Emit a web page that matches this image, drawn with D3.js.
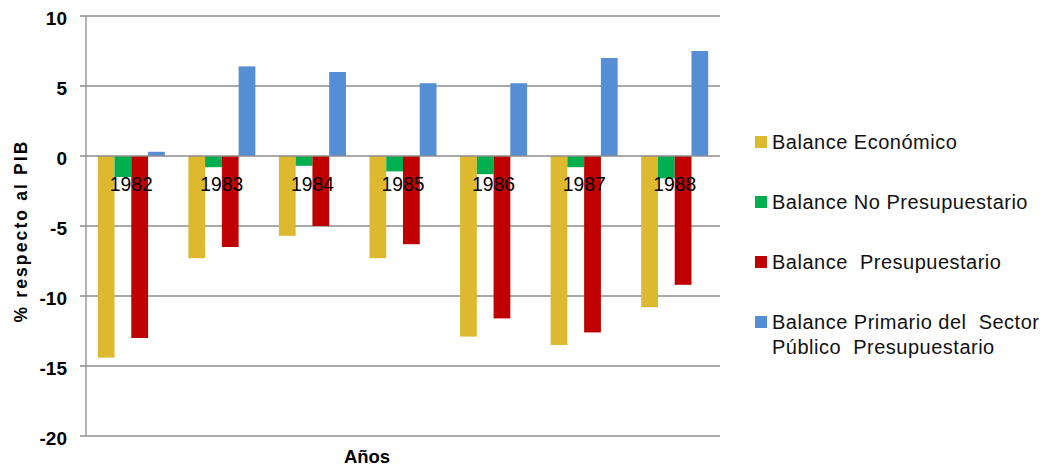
<!DOCTYPE html>
<html>
<head>
<meta charset="utf-8">
<script src="https://cdn.jsdelivr.net/npm/d3@7"></script>
<style>
  html, body { margin: 0; padding: 0; background: #fff; }
  svg { display: block; font-family: "Liberation Sans", Arial, sans-serif; }
</style>
</head>
<body>
<svg id="chart" width="1044" height="468"></svg>
<script>
// Años del período
const years = ["1982", "1983", "1984", "1985", "1986", "1987", "1988"];

// Balances del sector público (% del PIB)
const balanceEconomico      = [-14.4, -7.3, -5.7, -7.3, -12.9, -13.5, -10.8];
const balanceNoPresup       = [-1.5, -0.8, -0.7, -1.1, -1.3, -0.8, -1.6];
const balancePresupuestario = [-13.0, -6.5, -5.0, -6.3, -11.6, -12.6, -9.2];
const balancePrimario       = [0.3, 6.4, 6.0, 5.2, 5.2, 7.0, 7.5];

const seriesNames = [
  "Balance Económico",
  "Balance No Presupuestario",
  "Balance  Presupuestario",
  "Balance Primario del  Sector\nPúblico  Presupuestario"
];
const seriesColors = ["#DDB92F", "#00B050", "#C00000", "#558ED5"];
const seriesValues = [balanceEconomico, balanceNoPresup, balancePresupuestario, balancePrimario];

const yTicks = [10, 5, 0, -5, -10, -15, -20];

const svg = d3.select("#chart");
const plotLeft = 86, plotRight = 720, plotTop = 16, plotBottom = 436;

const x0 = d3.scaleBand().domain(years).range([plotLeft, plotRight])
  .paddingInner(0.26).paddingOuter(0.13);
const x1 = d3.scaleBand().domain(d3.range(seriesNames.length))
  .range([0, x0.bandwidth()]).padding(0);
const y = d3.scaleLinear().domain([-20, 10]).range([plotBottom, plotTop]);

const gridColor = "#8c8c8c";

// Líneas de división horizontales
svg.append("g").selectAll("line").data(yTicks.filter(t => t !== 0)).join("line")
  .attr("x1", plotLeft - 6).attr("x2", plotRight)
  .attr("y1", d => y(d)).attr("y2", d => y(d))
  .attr("stroke", gridColor).attr("stroke-width", 1.3);

// Eje vertical
svg.append("line")
  .attr("x1", plotLeft).attr("x2", plotLeft).attr("y1", plotTop).attr("y2", plotBottom)
  .attr("stroke", gridColor).attr("stroke-width", 1.3);

// Etiquetas del eje Y
svg.append("g").selectAll("text").data(yTicks).join("text")
  .attr("x", 67).attr("y", d => y(d) + 9)
  .attr("text-anchor", "end")
  .attr("font-size", 19).attr("font-weight", "bold").attr("fill", "#000")
  .text(d => d);

// Barras
const rows = years.map((yr, i) => ({ year: yr, vals: seriesValues.map(s => s[i]) }));
const groups = svg.append("g").selectAll("g").data(rows).join("g")
  .attr("transform", d => `translate(${x0(d.year)},0)`);
groups.selectAll("rect").data(d => d.vals.map((v, k) => ({ v, k }))).join("rect")
  .attr("x", d => x1(d.k))
  .attr("width", x1.bandwidth())
  .attr("y", d => Math.min(y(0), y(d.v)))
  .attr("height", d => Math.abs(y(d.v) - y(0)))
  .attr("fill", d => seriesColors[d.k]);

// Línea del cero
svg.append("line")
  .attr("x1", plotLeft - 6).attr("x2", plotRight).attr("y1", y(0)).attr("y2", y(0))
  .attr("stroke", gridColor).attr("stroke-width", 1.3);

// Etiquetas de categorías
svg.append("g").selectAll("text").data(years).join("text")
  .attr("x", d => x0(d) + x0.bandwidth() / 2)
  .attr("y", y(0) + 35)
  .attr("text-anchor", "middle")
  .attr("font-size", 20).attr("fill", "#000")
  .attr("textLength", 43).attr("lengthAdjust", "spacingAndGlyphs")
  .text(d => d);

// Títulos de ejes
svg.append("text")
  .attr("transform", "translate(27,232) rotate(-90)")
  .attr("text-anchor", "middle")
  .attr("font-size", 17.5).attr("font-weight", "bold")
  .attr("textLength", 181).attr("lengthAdjust", "spacing")
  .text("% respecto  al  PIB");

svg.append("text")
  .attr("x", 367).attr("y", 463)
  .attr("text-anchor", "middle")
  .attr("font-size", 18.5).attr("font-weight", "bold")
  .text("Años");

// Leyenda
const legendY = [142, 202, 262, 322];
const legend = svg.append("g").selectAll("g").data(seriesNames).join("g")
  .attr("transform", (d, i) => `translate(755,${legendY[i]})`);
legend.append("rect")
  .attr("x", 0).attr("y", -6).attr("width", 12).attr("height", 12)
  .attr("fill", (d, i) => seriesColors[i]);
legend.append("text")
  .attr("x", 17).attr("y", 7)
  .attr("font-size", 20).attr("letter-spacing", 0.5).attr("fill", "#111")
  .style("white-space", "pre")
  .selectAll("tspan").data(d => d.split("\n")).join("tspan")
  .attr("x", 17).attr("dy", (d, j) => j === 0 ? 0 : 25)
  .text(d => d);
</script>
</body>
</html>
